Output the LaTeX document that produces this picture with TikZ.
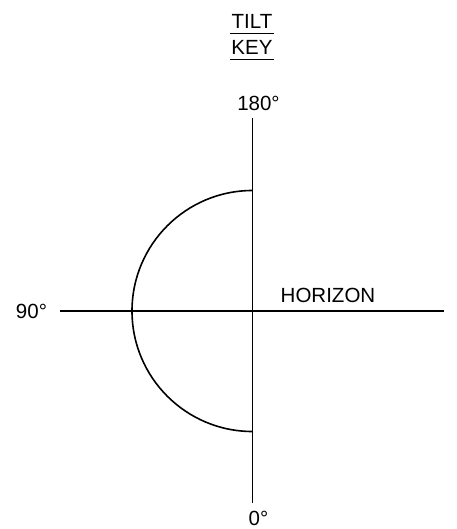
\documentclass[tikz,border=0pt]{standalone}
\usepackage{fontspec}
\setmainfont{Liberation Sans}
\begin{document}
\begin{tikzpicture}[x=1pt,y=-1pt,
  lbl/.style={inner sep=0pt,anchor=base,font=\fontsize{20.5}{24}\selectfont},
  ln/.style={line width=1.6pt}]
\useasboundingbox (0,0) rectangle (456,529);
% title
\node[lbl] (tilt) at (252,29) {TILT};
\node[lbl] (key) at (252,54.5) {KEY};
\coordinate (u1a) at (230,33.5); \coordinate (u1b) at (274,33.5);
\coordinate (u2a) at (230,59.5); \coordinate (u2b) at (274,59.5);
\draw[ln] (u1a) -- (u1b);
\draw[ln] (u2a) -- (u2b);
% axes
\coordinate (c) at (252.5,311);
\coordinate (top) at (252.5,118);
\coordinate (bot) at (252.5,503);
\coordinate (left) at (60,311);
\coordinate (right) at (444,311);
\draw[ln] (top) -- (bot);
\draw[ln] (left) -- (right);
% semicircle
\coordinate (arcstart) at (252.5,190.5);
\draw[ln] (arcstart) arc[start angle=-90,end angle=-270,radius=120.5];
% labels
\node[lbl] (l180) at (258.5,111) {180°};
\node[lbl] (l90) at (31.5,318) {90°};
\node[lbl] (hor) at (328,302.5) {HORIZON};
\node[lbl] (l0) at (258.5,525.5) {0°};
\end{tikzpicture}
\end{document}
